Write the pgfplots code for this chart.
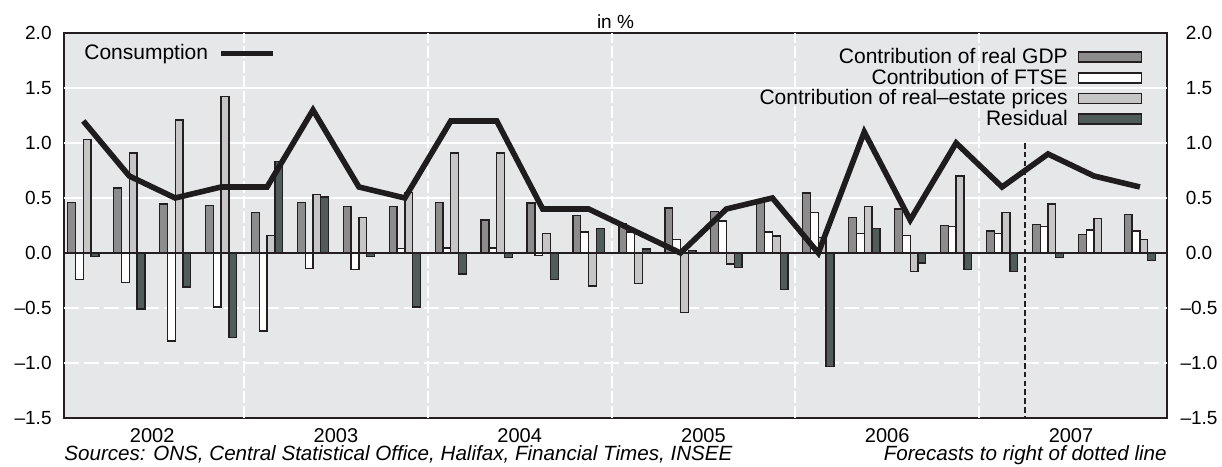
\documentclass[border=0pt]{standalone}
\usepackage{pgfplots}
\pgfplotsset{compat=1.18}
\usepackage{fontspec}
\setmainfont{Liberation Sans}
\definecolor{bgc}{RGB}{230,231,233}
\definecolor{gdpc}{RGB}{140,140,140}
\definecolor{rec}{RGB}{198,198,198}
\definecolor{resc}{RGB}{80,92,90}
\definecolor{edgec}{RGB}{35,31,32}
\definecolor{linec}{RGB}{30,28,28}

\pgfplotstableread{
idx gdp ftse re res cons
0 0.46 -0.24 1.03 -0.03 1.2
1 0.59 -0.27 0.91 -0.51 0.7
2 0.445 -0.80 1.21 -0.31 0.5
3 0.43 -0.49 1.42 -0.77 0.6
4 0.37 -0.71 0.16 0.83 0.6
5 0.46 -0.14 0.53 0.51 1.3
6 0.42 -0.15 0.32 -0.03 0.6
7 0.42 0.04 0.55 -0.49 0.5
8 0.46 0.045 0.91 -0.19 1.2
9 0.30 0.045 0.91 -0.04 1.2
10 0.455 -0.02 0.18 -0.24 0.4
11 0.34 0.19 -0.30 0.22 0.4
12 0.27 0.19 -0.28 0.035 0.2
13 0.41 0.125 -0.54 0.025 0.0
14 0.38 0.29 -0.10 -0.13 0.4
15 0.47 0.19 0.155 -0.33 0.5
16 0.545 0.37 0.14 -1.03 0.0
17 0.32 0.18 0.42 0.22 1.1
18 0.40 0.16 -0.17 -0.09 0.3
19 0.25 0.24 0.70 -0.15 1.0
20 0.20 0.18 0.37 -0.17 0.6
21 0.26 0.24 0.445 -0.04 0.9
22 0.17 0.21 0.315 0.0 0.7
23 0.35 0.20 0.12 -0.07 0.6
}\datatable

\begin{document}
\begin{tikzpicture}
\pgfplotsset{
  base/.style={
    scale only axis, width=551.5pt, height=192.5pt,
    xmin=-0.42, xmax=23.59, ymin=-1.5, ymax=2,
    ytick={-1.5,-1,-0.5,0,0.5,1,1.5,2},
    yticklabels={–1.5,–1.0,–0.5,0.0,0.5,1.0,1.5,2.0},
    ytick style={draw=none}, xtick style={draw=none},
    tick label style={font=\fontsize{9.5}{11}\selectfont},
  }
}
\begin{axis}[base, name=main,
  axis background/.style={fill=bgc},
  axis line style={draw=edgec, line width=1pt},
  xtick={1.5,5.5,9.5,13.5,17.5,21.5},
  xticklabels={2002,2003,2004,2005,2006,2007},
  xticklabel style={anchor=base, yshift=-12.5pt, font=\fontsize{10}{11}\selectfont},
  yticklabel style={anchor=east, inner sep=0pt, xshift=-6pt},
  legend plot pos=right,
  legend cell align=right,
  legend style={at={(0.978,0.972)}, anchor=north east, draw=none, fill=none,
    font=\fontsize{10.5}{11}\selectfont, row sep=-2.8pt, inner sep=0pt,
    /tikz/every odd column/.append style={column sep=3pt}},
]
% grid
\foreach \yy in {0.5,1,1.5} {\edef\tmp{\noexpand\draw[white, line width=0.9pt] (axis cs:-0.42,\yy) -- (axis cs:23.59,\yy);}\tmp}
\foreach \yy in {-0.5,-1} {\edef\tmp{\noexpand\draw[white, line width=0.9pt, dash pattern=on 7.5pt off 2.5pt] (axis cs:-0.42,\yy) -- (axis cs:23.59,\yy);}\tmp}
\foreach \xx in {3.5,7.5,11.5,15.5,19.5} {\edef\tmp{\noexpand\draw[white, line width=0.9pt, dash pattern=on 6pt off 1.5pt] (axis cs:\xx,-1.5) -- (axis cs:\xx,2);}\tmp}

\addplot[ybar, bar width=0.17, bar shift=-0.255, fill=gdpc, draw=edgec, line width=0.65pt,
  legend image code/.code={\draw[fill=gdpc, draw=edgec, line width=0.8pt] (0pt,-2.5pt) rectangle (31.5pt,2.5pt);}]
  table[x=idx, y=gdp] {\datatable};
\addlegendentry{Contribution of real GDP}
\addplot[ybar, bar width=0.17, bar shift=-0.085, fill=white, draw=edgec, line width=0.65pt,
  legend image code/.code={\draw[fill=white, draw=edgec, line width=0.8pt] (0pt,-2.5pt) rectangle (31.5pt,2.5pt);}]
  table[x=idx, y=ftse] {\datatable};
\addlegendentry{Contribution of FTSE}
\addplot[ybar, bar width=0.17, bar shift=0.085, fill=rec, draw=edgec, line width=0.65pt,
  legend image code/.code={\draw[fill=rec, draw=edgec, line width=0.8pt] (0pt,-2.5pt) rectangle (31.5pt,2.5pt);}]
  table[x=idx, y=re] {\datatable};
\addlegendentry{Contribution of real–estate prices}
\addplot[ybar, bar width=0.17, bar shift=0.255, fill=resc, draw=edgec, line width=0.65pt,
  legend image code/.code={\draw[fill=resc, draw=edgec, line width=0.8pt] (0pt,-2.5pt) rectangle (31.5pt,2.5pt);}]
  table[x=idx, y=res] {\datatable};
\addlegendentry{Residual}

\addplot[forget plot, edgec, line width=1.1pt] coordinates {(-0.42,0) (23.59,0)};
\draw[edgec, line width=0.7pt, dash pattern=on 2.8pt off 1.6pt] (axis cs:20.5,1.0) -- (axis cs:20.5,-1.5);
\addplot[forget plot, linec, line width=2.8pt, line join=miter, miter limit=4] table[x=idx, y=cons] {\datatable};

\coordinate (SW) at (rel axis cs:0,0);
\coordinate (NE) at (rel axis cs:1,1);
\coordinate (NM) at (rel axis cs:0.5,1);
\coordinate (SE) at (rel axis cs:1,0);
\end{axis}
\begin{axis}[base,
  axis y line*=right, hide x axis,
  y axis line style={draw=none},
  yticklabel style={anchor=center, xshift=16pt},
  legend plot pos=right,
  legend style={at={(0.0145,0.982)}, anchor=north west, draw=none, fill=none,
    font=\fontsize{10.5}{11}\selectfont, inner sep=0pt,
    /tikz/every odd column/.append style={column sep=3pt}},
]
\addlegendimage{legend image code/.code={\draw[linec, line width=2.8pt] (0pt,0pt) -- (26pt,0pt);}}
\addlegendentry{Consumption}
\end{axis}
\node[anchor=base, inner sep=0pt, font=\fontsize{9.5}{11}\selectfont] at ([yshift=2pt]NM) {in \%};
\node[anchor=base west, inner sep=0pt, font=\fontsize{10.3}{12}\selectfont\itshape] at ([yshift=-21.5pt]SW)
  {Sources: ONS, Central Statistical Office, Halifax, Financial Times, INSEE};
\node[anchor=base east, inner sep=0pt, font=\fontsize{10.3}{12}\selectfont\itshape] at ([yshift=-21.5pt]SE)
  {Forecasts to right of dotted line};
\pgfresetboundingbox
\path ([xshift=-32pt,yshift=-24.5pt]SW) rectangle ([xshift=27.5pt,yshift=16.5pt]NE);
\end{tikzpicture}
\end{document}
